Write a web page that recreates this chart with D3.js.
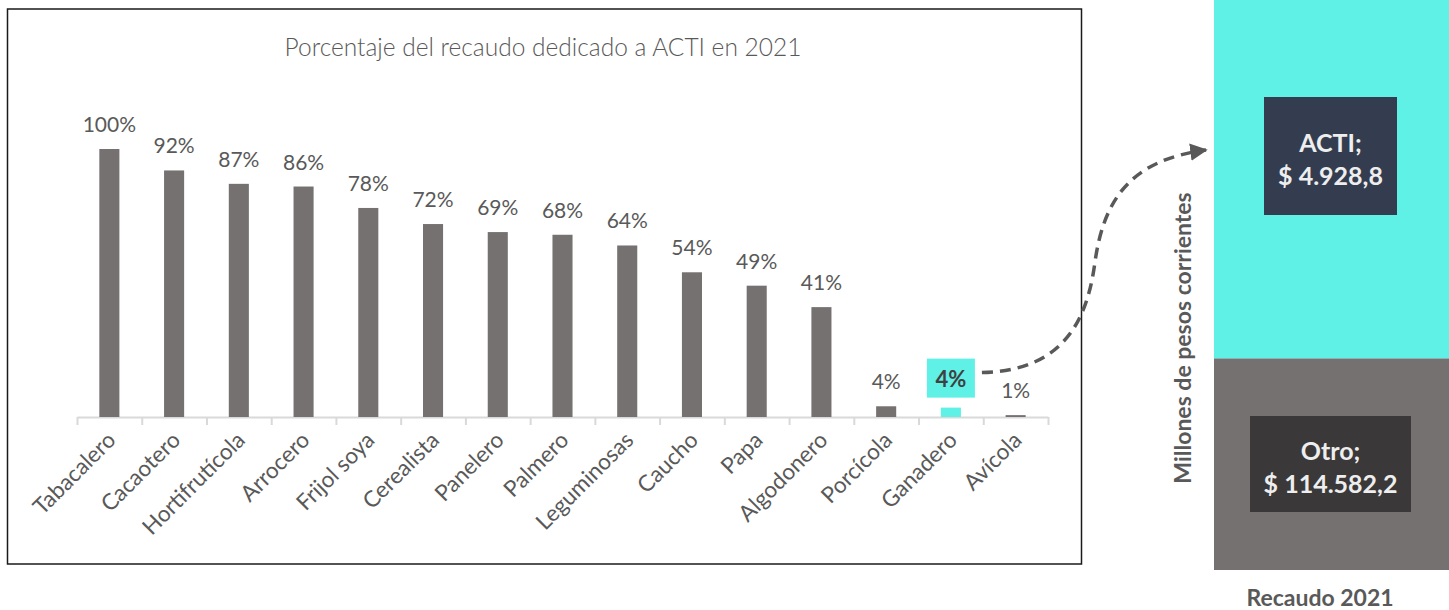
<!DOCTYPE html>
<html>
<head>
<meta charset="utf-8">
<script src="https://cdn.jsdelivr.net/npm/d3@7"></script>
<style>
  body { margin: 0; background: #fff; }
  svg { display: block; font-family: Lato, "Open Sans", sans-serif; }
</style>
</head>
<body>
<script>
var w = 1449;
var h = 610;

// sectores y porcentaje del recaudo dedicado a ACTI
var sectores = ["Tabacalero", "Cacaotero", "Hortifrutícola", "Arrocero", "Frijol soya", "Cerealista",
  "Panelero", "Palmero", "Leguminosas", "Caucho", "Papa", "Algodonero", "Porcícola", "Ganadero", "Avícola"];
var porcentajes = [1.00, 0.92, 0.87, 0.86, 0.78, 0.72, 0.69, 0.68, 0.64, 0.54, 0.49, 0.41, 0.04, 0.035, 0.007];
var destacado = "Ganadero";

// recaudo 2021, millones de pesos corrientes
var partes = ["Otro", "ACTI"];
var montos = [114582.2, 4928.8];

var gris = "#767171";
var cian = "#5ff0e6";
var texto = "#595959";

var filas = sectores.map(function(s, i) { return { sector: s, v: porcentajes[i] }; });

var svg = d3.select("body").append("svg")
  .attr("width", w)
  .attr("height", h);

// marco del gráfico izquierdo
svg.append("rect")
  .attr("x", 7.5).attr("y", 9)
  .attr("width", 1074).attr("height", 555)
  .attr("fill", "none")
  .attr("stroke", "#1a1a1a")
  .attr("stroke-width", 1.5);

svg.append("text")
  .attr("x", 543)
  .attr("y", 56)
  .attr("text-anchor", "middle")
  .style("font-size", "24.5px")
  .style("font-weight", 300)
  .attr("fill", texto)
  .text("Porcentaje del recaudo dedicado a ACTI en 2021");

var x = d3.scaleBand()
  .domain(sectores)
  .range([77, 1048])
  .paddingInner(0.69)
  .paddingOuter(0.345);

var y = d3.scaleLinear()
  .domain([0, 1])
  .range([417, 149]);

// eje con marcas entre categorías
var xBordes = d3.scaleLinear().domain([0, sectores.length]).range([77, 1048]);
var eje = svg.append("g")
  .attr("transform", "translate(0,417)")
  .call(d3.axisBottom(xBordes).ticks(sectores.length).tickFormat("").tickSize(8).tickSizeOuter(0));
eje.select(".domain").attr("stroke", "#d9d9d9").attr("stroke-width", 2);
eje.selectAll(".tick line").attr("stroke", "#d9d9d9").attr("stroke-width", 2);

svg.append("g").selectAll("rect")
  .data(filas)
  .enter()
  .append("rect")
  .attr("x", function(d) { return x(d.sector); })
  .attr("y", function(d) { return y(d.v); })
  .attr("width", x.bandwidth())
  .attr("height", function(d) { return y(0) - y(d.v); })
  .attr("fill", function(d) { return d.sector == destacado ? cian : gris; });

var fmt = d3.format(".0%");

svg.append("g").selectAll("text")
  .data(filas.filter(function(d) { return d.sector != destacado; }))
  .enter()
  .append("text")
  .attr("x", function(d) { return x(d.sector) + x.bandwidth() / 2; })
  .attr("y", function(d) { return y(d.v) - 17; })
  .attr("text-anchor", "middle")
  .style("font-size", "21px")
  .attr("fill", texto)
  .text(function(d) { return fmt(d.v); });

// etiqueta destacada
var iD = sectores.indexOf(destacado);
var cx = x(destacado) + x.bandwidth() / 2;
var topD = y(porcentajes[iD]);
svg.append("rect")
  .attr("x", cx - 24).attr("y", topD - 49)
  .attr("width", 48).attr("height", 39)
  .attr("fill", cian);
svg.append("text")
  .attr("x", cx)
  .attr("y", topD - 21)
  .attr("text-anchor", "middle")
  .style("font-size", "22px")
  .style("font-weight", "bold")
  .attr("fill", "#404040")
  .text(fmt(porcentajes[iD]));

// etiquetas del eje rotadas
svg.append("g").selectAll("text")
  .data(sectores)
  .enter()
  .append("text")
  .attr("transform", function(d) {
    return "translate(" + (x(d) + x.bandwidth() / 2 + 2) + ",436) rotate(-45)";
  })
  .attr("text-anchor", "end")
  .attr("dy", "0.35em")
  .style("font-size", "22.5px")
  .attr("fill", texto)
  .text(function(d) { return d; });

// barra apilada del recaudo
var total = d3.sum(montos);
var base = 111670;
var yR = d3.scaleLinear()
  .domain([base, total])
  .range([570, 0]);

var xR0 = 1214;
var xR1 = 1449;
var colores = [gris, cian];
var acum = 0;
var segs = montos.map(function(m, i) {
  var s = { nombre: partes[i], v: m, y0: acum, y1: acum + m, color: colores[i] };
  acum += m;
  return s;
});

svg.append("g").selectAll("rect")
  .data(segs)
  .enter()
  .append("rect")
  .attr("x", xR0)
  .attr("y", function(d) { return Math.max(0, yR(d.y1)); })
  .attr("width", xR1 - xR0)
  .attr("height", function(d) { return yR(Math.max(d.y0, base)) - Math.max(0, yR(d.y1)); })
  .attr("fill", function(d) { return d.color; });

var monto = function(v) {
  var s = d3.format(",.1f")(v);
  return "$ " + s.replace(/,/g, "#").replace(".", ",").replace(/#/g, ".");
};

var cajas = [
  { x: 1250, y: 416, w: 161, h: 96, fill: "#3a3838" },
  { x: 1264, y: 97, w: 133, h: 118, fill: "#333d4f" }
];

segs.forEach(function(d, i) {
  var c = cajas[i];
  svg.append("rect")
    .attr("x", c.x).attr("y", c.y)
    .attr("width", c.w).attr("height", c.h)
    .attr("fill", c.fill);
  var t = svg.append("text")
    .attr("x", c.x + c.w / 2)
    .attr("y", c.y + c.h / 2 - 4)
    .attr("text-anchor", "middle")
    .style("font-size", "25px")
    .style("font-weight", "bold")
    .attr("fill", "#eeeeee");
  t.append("tspan").attr("x", c.x + c.w / 2).text(d.nombre + ";");
  t.append("tspan").attr("x", c.x + c.w / 2).attr("dy", 33).text(monto(d.v));
});

svg.append("text")
  .attr("transform", "translate(1191,338) rotate(-90)")
  .attr("text-anchor", "middle")
  .style("font-size", "23px")
  .style("font-weight", "bold")
  .attr("fill", texto)
  .text("Millones de pesos corrientes");

svg.append("text")
  .attr("x", 1320)
  .attr("y", 606)
  .attr("text-anchor", "middle")
  .style("font-size", "23px")
  .style("font-weight", "bold")
  .attr("fill", texto)
  .text("Recaudo 2021");

// flecha discontinua
svg.append("defs").append("marker")
  .attr("id", "punta")
  .attr("viewBox", "0 0 10 10")
  .attr("refX", 9).attr("refY", 5)
  .attr("markerWidth", 5).attr("markerHeight", 5)
  .attr("orient", "auto")
  .append("path")
  .attr("d", "M0,0 L10,5 L0,10 Z")
  .attr("fill", texto);

var p = d3.path();
var sx = cx + 31, sy = topD - 35;
var ex = xR0 - 8, ey = 150;
p.moveTo(sx, sy);
p.bezierCurveTo(sx + 80, sy - 2, sx + 105, sy - 50, sx + 113, sy - 110);
p.bezierCurveTo(sx + 122, sy - 175, sx + 150, ey + 10, ex, ey);
svg.append("path")
  .attr("d", p.toString())
  .attr("fill", "none")
  .attr("stroke", texto)
  .attr("stroke-width", 3.5)
  .attr("stroke-dasharray", "11,7")
  .attr("marker-end", "url(#punta)");
</script>
</body>
</html>
